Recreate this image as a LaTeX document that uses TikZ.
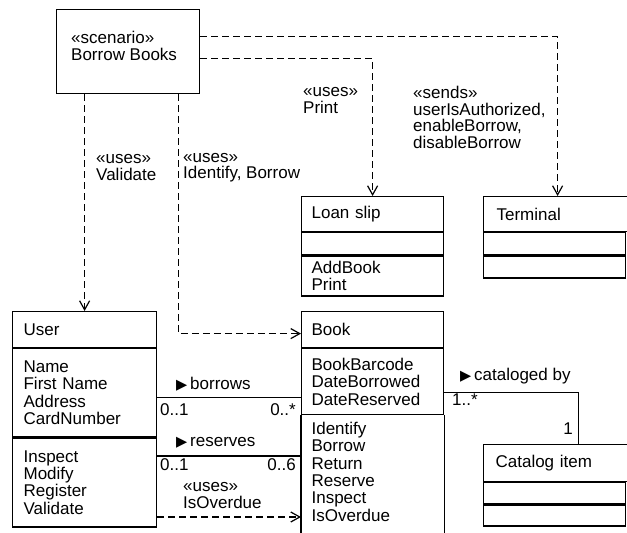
\documentclass[tikz,border=0pt]{standalone}
\usepackage{fontspec}
\setmainfont{Liberation Sans}
\newfontfamily\symfont{DejaVu Sans}
\usetikzlibrary{arrows.meta,positioning}
\newcommand{\tri}{{\symfont\fontsize{14.5}{14.5}\selectfont ▶}\,}

\begin{document}
\begin{tikzpicture}[
  x=1pt, y=-1pt,
  font=\fontsize{17}{17.4}\selectfont,
  box/.style={draw, line width=1.2pt, minimum width=142pt, text width=122pt, inner xsep=10pt, inner ysep=0pt, align=left, anchor=north west},
  note/.style={align=left, anchor=west, inner sep=0pt, font=\fontsize{17}{16.5}\selectfont},
  dep/.style={line width=1.2pt, dash pattern=on 7pt off 4pt, -{Straight Barb[length=9pt, width=10pt]}},
  assoc/.style={line width=1.2pt}
]
  \useasboundingbox (0,0) rectangle (627,533);

  % The scenario
  \node[draw, line width=1.2pt, minimum width=143pt, minimum height=84pt, anchor=north west, inner sep=0pt] (bb) at (56,9) {};
  \node[note] (bbtext) at (71,46) {«scenario»\\Borrow Books};

  % Classes on top row
  \node[box, minimum height=35pt] (loan) at (301,196) {Loan slip};
  \node[box, minimum height=22pt] (loanattr) at (loan.south west) {};
  \node[box, minimum height=40pt] (loanops) at (loanattr.south west) {AddBook\\Print};

  \node[box, minimum height=35pt, inner xsep=13pt] (term) at (483,196) {Terminal};
  \node[box, minimum height=22pt] (termattr) at (term.south west) {};
  \node[box, minimum height=22pt] (termops) at (termattr.south west) {};

  % User and Book
  \node[box, minimum height=36pt, inner xsep=11pt] (user) at (12,311) {User};
  \node[box, minimum height=88pt, inner xsep=11pt] (userattr) at (user.south west) {Name\\First Name\\Address\\CardNumber};
  \node[box, minimum height=89pt, inner xsep=11pt] (userops) at (userattr.south west) {Inspect\\Modify\\Register\\Validate};

  \node[box, minimum height=36pt] (book) at (301,311) {Book};
  \node[box, minimum height=66pt] (bookattr) at (book.south west) {BookBarcode\\DateBorrowed\\DateReserved};
  \node[box, draw=none, inner ysep=6pt] (bookops) at (bookattr.south west) {Identify\\Borrow\\Return\\Reserve\\Inspect\\IsOverdue};
  \draw[line width=1.2pt] (bookops.north west) -- (bookops.north west |- 0,533);
  \draw[line width=1.2pt] (bookops.north east) -- (bookops.north east |- 0,533);

  \node[box, minimum height=37pt, inner xsep=12pt] (catalog) at (483,444) {Catalog item};
  \node[box, minimum height=21pt] (catattr) at (catalog.south west) {};
  \node[box, minimum height=21pt] (catops) at (catattr.south west) {};

  % Dependencies
  \draw[dep] ([yshift=15pt]bb.east) -| (term.north);
  \draw[dep] ([yshift=-7pt]bb.east) -| (loan.north);
  \draw[dep] (bb.south -| user.north) -- (user.north);
  \draw[dep] ([xshift=-22pt]bb.south east) |- ([yshift=-4pt]book.west);
  \coordinate (ovr) at ([yshift=-34.5pt]userops.east);
  \draw[dep] (ovr) -- (ovr -| bookops.west);

  \node[note] (lvalid) at (96,167.5) {«uses»\\Validate};
  \node[note] (lident) at (183,167.5) {«uses»\\Identify, Borrow};
  \node[note] (lprint) at (303,100.5) {«uses»\\Print};
  \node[note] (lsends) at (413,117.5) {«sends»\\userIsAuthorized,\\enableBorrow,\\disableBorrow};
  \node[note] (lover) at (183,495.5) {«uses»\\IsOverdue};

  % Associations
  \coordinate (brw) at ([yshift=-5pt]userattr.east);
  \draw[assoc] (brw) -- (brw -| bookattr.west);
  \coordinate (rsv) at ([yshift=26.5pt]userops.east);
  \draw[assoc] (rsv) -- (rsv -| bookops.west);
  \coordinate (cat) at ([yshift=-11pt]bookattr.east);
  \draw[assoc] (cat) -| ([xshift=22pt]catalog.north);

  \node[note] (lborrows) at (176,384) {\tri borrows};
  \node[note] (mb1) at (160,410) {0..1};
  \node[note, anchor=east] (mb2) at (296,410) {0..*};
  \node[note] (lreserves) at (176,443) {\tri reserves};
  \node[note] (mr1) at (160,465) {0..1};
  \node[note, anchor=east] (mr2) at (296,465) {0..6};
  \node[note] (lcat) at (460,376) {\tri cataloged by};
  \node[note] (mc1) at (452,400) {1..*};
  \node[note, anchor=east] (mc2) at (573,429) {1};
\end{tikzpicture}
\end{document}
